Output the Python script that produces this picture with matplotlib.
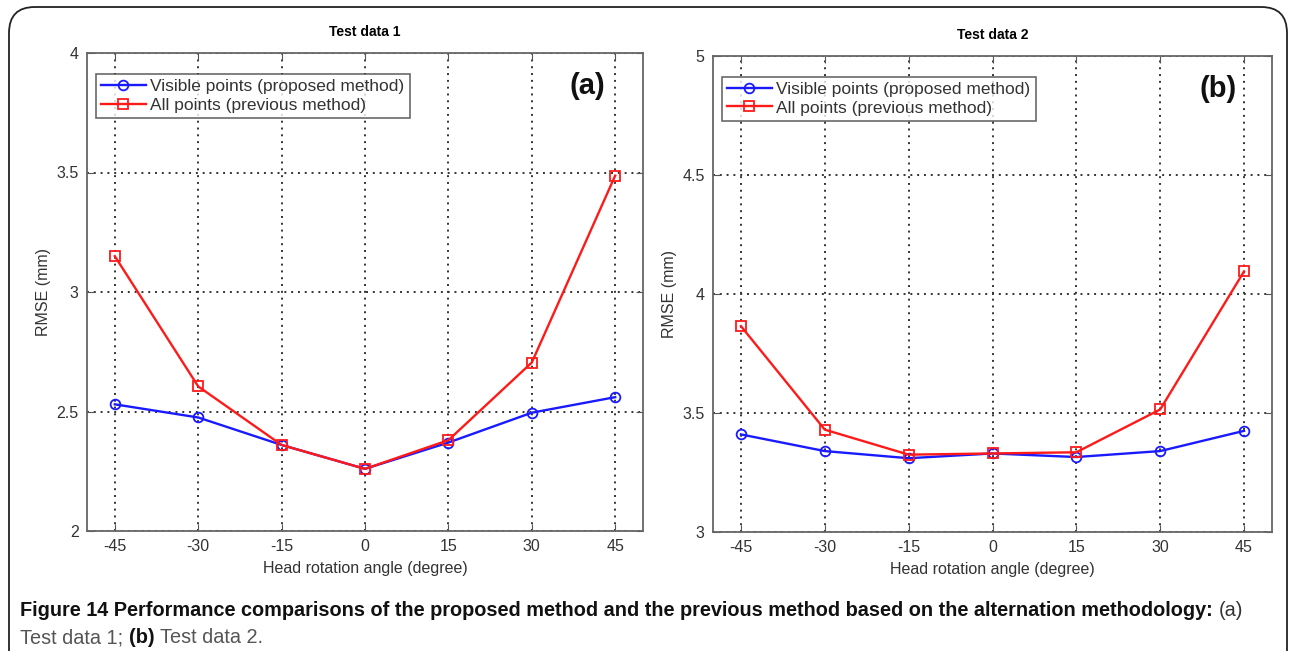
import matplotlib
matplotlib.use("Agg")
import matplotlib.pyplot as plt
from matplotlib.patches import FancyBboxPatch

plt.rcParams['font.family'] = ['Liberation Sans', 'DejaVu Sans']

angles = [-45, -30, -15, 0, 15, 30, 45]
xtick_labels = ['-45', '-30', '-15', '0', '15', '30', '45']

# Test data 1
visible_1 = [2.53, 2.475, 2.36, 2.26, 2.37, 2.495, 2.56]
allpts_1 = [3.15, 2.605, 2.36, 2.26, 2.38, 2.705, 3.487]
yticks_1 = [2, 2.5, 3, 3.5, 4]
ytick_labels_1 = ['2', '2.5', '3', '3.5', '4']

# Test data 2
visible_2 = [3.41, 3.34, 3.31, 3.33, 3.315, 3.34, 3.425]
allpts_2 = [3.865, 3.43, 3.325, 3.33, 3.335, 3.515, 4.095]
yticks_2 = [3, 3.5, 4, 4.5, 5]
ytick_labels_2 = ['3', '3.5', '4', '4.5', '5']

titles = ['Test data 1', 'Test data 2']
tags = ['(a)', '(b)']
tag_x = [0.932, 0.937]
legend_labels = ['Visible points (proposed method)', 'All points (previous method)']

fig = plt.figure(figsize=(12.9, 6.51), dpi=100)

# rounded frame around the figure
frame = FancyBboxPatch((9 / 1290, -0.1), 1 - 12 / 1290, 1.1 - 7 / 651,
                       boxstyle='round,pad=0,rounding_size=0.02',
                       transform=fig.transFigure, fill=False,
                       edgecolor='#222222', linewidth=1.3, mutation_aspect=2)
fig.patches.append(frame)

ax1 = fig.add_axes([87 / 1290, 1 - 531 / 651, 556 / 1290, 478 / 651])
ax2 = fig.add_axes([713 / 1290, 1 - 532 / 651, 559 / 1290, 476 / 651])

panels = [
    (ax1, visible_1, allpts_1, yticks_1, ytick_labels_1),
    (ax2, visible_2, allpts_2, yticks_2, ytick_labels_2),
]

for i, (ax, vis, allp, yt, ytl) in enumerate(panels):
    ax.plot(angles, vis, color='#1a1aff', lw=1.7, marker='o', ms=7,
            mfc='none', mew=1.3, label=legend_labels[0], zorder=3)
    ax.plot(angles, allp, color='#ff1a1a', lw=1.7, marker='s', ms=7.5,
            mfc='none', mew=1.3, label=legend_labels[1], zorder=3)
    ax.set_xlim(-50, 50)
    ax.set_ylim(yt[0], yt[-1])
    ax.set_xticks(angles)
    ax.set_xticklabels(xtick_labels)
    ax.set_yticks(yt)
    ax.set_yticklabels(ytl)
    ax.grid(True, linestyle=(0, (1, 2.5)), color='#333333', linewidth=1.4)
    ax.tick_params(direction='in', top=True, right=True, labelsize=11.5,
                   labelcolor='#333333', color='#555555', length=5, pad=6)
    for s in ax.spines.values():
        s.set_color('#666666')
        s.set_linewidth(1.3)
    ax.set_title(titles[i], fontsize=10, fontweight='bold', pad=12)
    ax.set_xlabel('Head rotation angle (degree)', fontsize=11.5, color='#333333', labelpad=5)
    ax.set_ylabel('RMSE (mm)', fontsize=11.5, color='#333333', labelpad=4)
    ax.text(tag_x[i], 0.93, tags[i], transform=ax.transAxes, ha='right', va='center',
            fontsize=21, fontweight='bold', color='#111111')
    leg = ax.legend(loc='upper left', bbox_to_anchor=(0.0, 0.975), fontsize=12.5,
                    frameon=True, fancybox=False, borderpad=0.3, labelspacing=0.2,
                    handlelength=2.6, handletextpad=0.25, borderaxespad=0.5)
    leg.get_frame().set_edgecolor('#444444')
    leg.get_frame().set_linewidth(1.2)
    for t in leg.get_texts():
        t.set_color('#333333')

cap_size = 14.3
t1 = fig.text(20 / 1290, 1 - 616 / 651,
              'Figure 14 Performance comparisons of the proposed method and the previous method based on the alternation methodology:',
              fontsize=cap_size, fontweight='bold', va='baseline', ha='left', color='#111111')
ax1.annotate('(a)', xy=(1, 0), xycoords=t1, xytext=(4, 0), textcoords='offset points',
             fontsize=cap_size, va='bottom', ha='left', color='#333333', annotation_clip=False)
t2 = fig.text(20 / 1290, 1 - 643 / 651, 'Test data 1;', fontsize=cap_size,
              va='baseline', ha='left', color='#555555')
t3 = ax1.annotate('(b)', xy=(1, 0), xycoords=t2, xytext=(4, 0), textcoords='offset points',
                  fontsize=cap_size, fontweight='bold', va='bottom', ha='left',
                  color='#111111', annotation_clip=False)
ax1.annotate('Test data 2.', xy=(1, 0), xycoords=t3, xytext=(4, 0), textcoords='offset points',
             fontsize=cap_size, va='bottom', ha='left', color='#555555', annotation_clip=False)

fig.savefig('out.png', dpi=100)
